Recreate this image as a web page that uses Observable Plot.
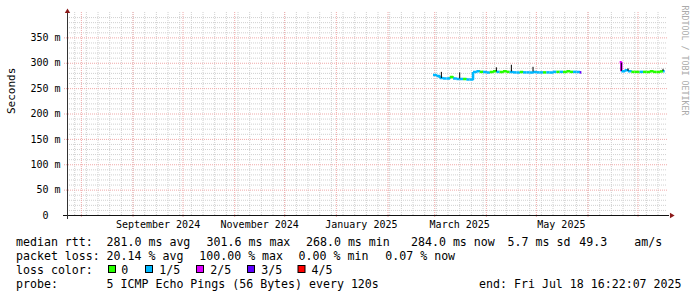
<!DOCTYPE html>
<html><head><meta charset="utf-8">
<script src="https://cdn.jsdelivr.net/npm/d3@7"></script>
<script src="https://cdn.jsdelivr.net/npm/@observablehq/plot@0.6"></script>
<style>
body{margin:0;background:#fff;}
#chart svg{display:block;}
</style></head><body><div id="chart"></div>
<script>
// ---------- data ----------
const graphStart = "2024-07-23 16:22:07";
const graphEnd = "2025-07-18 16:22:07";

const seg1Dates = ["2025-02-28","2025-03-02","2025-03-04","2025-03-06","2025-03-08","2025-03-10","2025-03-12","2025-03-14","2025-03-16","2025-03-18","2025-03-20","2025-03-22","2025-03-24","2025-03-26","2025-03-28","2025-03-30","2025-04-01","2025-04-03","2025-04-05","2025-04-07","2025-04-09","2025-04-11","2025-04-13","2025-04-15","2025-04-17","2025-04-19","2025-04-21","2025-04-23","2025-04-25","2025-04-27","2025-04-29","2025-05-01","2025-05-03","2025-05-05","2025-05-07","2025-05-09","2025-05-11","2025-05-13","2025-05-15","2025-05-17","2025-05-19","2025-05-21","2025-05-23","2025-05-25","2025-05-27","2025-05-28"];
const seg1Values = [277,275,271,270,270,273,270,269,269,269,268,268,283,284,283,283,282,283,284,283,283,284,283,283,282,282,283,282,282,282,283,282,282,282,282,282,283,283,283,283,284,283,283,283,282,282];
const seg1Loss = [1,1,1,1,1,0,1,1,1,0,1,1,1,1,0,1,1,0,0,1,0,0,0,1,1,1,0,1,1,1,1,1,1,0,1,1,1,0,1,0,0,0,1,1,3,3];

const seg2Dates = ["2025-06-20","2025-06-21","2025-06-23","2025-06-25","2025-06-27","2025-06-29","2025-07-01","2025-07-02","2025-07-04","2025-07-06","2025-07-08","2025-07-10","2025-07-12","2025-07-14","2025-07-16","2025-07-17"];
const seg2Values = [302,284,286,284,283,283,283,283,283,283,284,283,283,284,284,284];
const seg2Loss = [2,1,1,1,0,0,0,1,0,0,0,0,0,0,1,1];

const spikeDates = ["2025-03-05","2025-03-16","2025-04-07","2025-04-16","2025-04-29","2025-06-21","2025-06-25","2025-07-16"];
const spikeLow = [270,269,283,283,283,284,284,284];
const spikeHigh = [282,281,291,296,292,300,289,288];

const yTicks = [0,50,100,150,200,250,300,350];
const xLabelDates = ["2024-09-16","2024-11-16","2025-01-16","2025-03-16","2025-05-16"];

const lossLabels = ["0","1/5","2/5","3/5","4/5"];
const lossColors = ["#26ff00","#00b8ff","#dd00ff","#5e00ff","#ff0000"];

const statsLine1 = ["median rtt:","281.0 ms avg","301.6 ms max","268.0 ms min","284.0 ms now","5.7 ms sd","49.3","am/s"];
const statsLine2 = ["packet loss:","20.14 % avg","100.00 % max","0.00 % min","0.07 % now"];
const legendTitle = "loss color:";
const probeLine = ["probe:","5 ICMP Echo Pings (56 Bytes) every 120s"];
const endText = "end: Fri Jul 18 16:22:07 2025";
const yLabel = "Seconds";
const watermark = "RRDTOOL / TOBI OETIKER";

// ---------- build ----------
const pDay = d3.timeParse("%Y-%m-%d");
const pFull = d3.timeParse("%Y-%m-%d %H:%M:%S");
const x0 = pFull(graphStart), x1 = pFull(graphEnd);

function links(dates, values, loss) {
  const out = [];
  for (let i = 0; i < dates.length - 1; i++) {
    out.push({x1: pDay(dates[i]), x2: pDay(dates[i+1]), y1: values[i], y2: values[i+1], c: lossColors[loss[i]]});
  }
  return out;
}
const lineRows = links(seg1Dates, seg1Values, seg1Loss).concat(links(seg2Dates, seg2Values, seg2Loss));
const spikes = spikeDates.map((d, i) => ({x: pDay(d), y1: spikeLow[i], y2: spikeHigh[i]}));

const minorH = d3.range(10, 400, 10).filter(v => v % 50 !== 0);
const majorH = d3.range(50, 400, 50);
const minorV = d3.timeSunday.range(x0, x1);
const majorV = d3.timeMonth.range(x0, x1);

const gridMinor = "#d0d0d0", gridMajor = "#f0a8a8", arrowColor = "#8b1a1a";

const chart = Plot.plot({
  width: 697, height: 232,
  marginLeft: 67, marginRight: 30, marginTop: 12, marginBottom: 17,
  style: {fontFamily: "DejaVu Sans Mono", fontSize: "10px", background: "white", color: "black"},
  x: {type: "time", domain: [x0, x1]},
  y: {domain: [0, 400]},
  marks: [
    Plot.ruleY(minorH, {stroke: gridMinor, strokeDasharray: "1,1"}),
    Plot.ruleX(minorV, {stroke: gridMinor, strokeDasharray: "1,1"}),
    Plot.ruleY(majorH, {stroke: gridMajor, strokeDasharray: "1,1", insetLeft: -3}),
    Plot.ruleX(majorV, {stroke: gridMajor, strokeDasharray: "1,1", insetBottom: -3}),
    Plot.link(lineRows, {x1: "x1", y1: "y1", x2: "x2", y2: "y2", stroke: "c", strokeWidth: 2.5, curve: "step-after"}),
    Plot.ruleX(spikes, {x: "x", y1: "y1", y2: "y2", stroke: "#000", strokeWidth: 1}),
    Plot.ruleY([0], {stroke: "#111", insetLeft: -4, insetRight: -2}),
    Plot.ruleX([x0], {stroke: "#333", insetBottom: -4, insetTop: -2}),
    Plot.dot([{x: x1, y: 0}], {x: "x", y: "y", symbol: "triangle", rotate: 90, r: 2, fill: arrowColor, stroke: null, dx: 4}),
    Plot.dot([{x: x0, y: 400}], {x: "x", y: "y", symbol: "triangle", r: 2, fill: arrowColor, stroke: null, dy: -1}),
    Plot.axisY({ticks: yTicks, tickSize: 0, tickPadding: 7, label: null,
      tickFormat: d => d === 0 ? "0\u00a0\u00a0" : `${d} m`}),
    Plot.axisX({ticks: xLabelDates.map(pDay), tickSize: 0, tickPadding: 5, label: null,
      tickFormat: d3.timeFormat("%B %Y")}),
    Plot.text([yLabel], {frameAnchor: "left", dx: -56, rotate: -90, fontSize: 11, fill: "black"}),
    Plot.text([watermark], {frameAnchor: "top-right", dx: 20, dy: -7, rotate: 90, textAnchor: "start", fontSize: 8.3, fill: "#aaaaaa"})
  ]
});
document.getElementById("chart").appendChild(chart);

// ---------- footer (legend / stats) ----------
const line1X = [16, 106.6, 206.6, 306, 411, 507.6, 579.3, 634.3];
const line2X = [16, 106.6, 199.3, 298.6, 385.3];
const boxX = [108.5, 145.5, 196.5, 247.5, 298];
const boxLabelX = [121.3, 159.3, 210.3, 261.3, 311.6];
const baselines = [13.5, 27.5, 41.5, 55.5];

const foot = d3.create("svg").attr("width", 697).attr("height", 65)
  .style("display", "block")
  .attr("font-family", "DejaVu Sans Mono").attr("font-size", "11.6px").attr("fill", "black");
const addText = (x, y, t, anchor) => foot.append("text").attr("x", x).attr("y", y)
  .attr("text-anchor", anchor || "start").style("white-space", "pre").text(t);

statsLine1.forEach((t, i) => addText(line1X[i], baselines[0], t));
statsLine2.forEach((t, i) => addText(line2X[i], baselines[1], t));
addText(16, baselines[2], legendTitle);
lossLabels.forEach((t, i) => {
  foot.append("rect").attr("x", boxX[i]).attr("y", 33.5).attr("width", 7).attr("height", 7)
    .attr("fill", lossColors[i]).attr("stroke", "black").attr("stroke-width", 1);
  addText(boxLabelX[i], baselines[2], t);
});
addText(16, baselines[3], probeLine[0]);
addText(106.6, baselines[3], probeLine[1]);
addText(681.5, baselines[3], endText, "end");
document.getElementById("chart").appendChild(foot.node());
</script>
</body></html>
